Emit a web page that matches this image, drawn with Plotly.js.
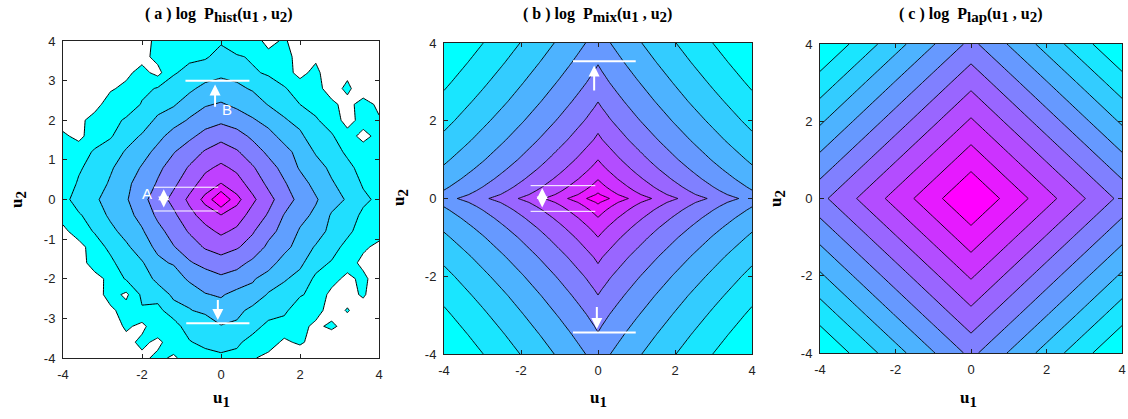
<!DOCTYPE html>
<html><head><meta charset="utf-8">
<script src="https://cdn.plot.ly/plotly-3.0.1.min.js"></script>
<style>html,body{margin:0;padding:0;background:#fff}#chart{width:1128px;height:419px}</style>
</head><body><div id="chart"></div>
<script>
// ---------- DATA ----------
// (a) 2-D histogram: -log P (in contour-level units) on a 0.4 grid, rows = u2 from -4 to 4
const histU = [-4,-3.6,-3.2,-2.8,-2.4,-2,-1.6,-1.2,-0.8,-0.4,0,0.4,0.8,1.2,1.6,2,2.4,2.8,3.2,3.6,4];
const histNegLogP = [
 [11.5,11.0,10.8,10.3,9.9,9.3,8.7,9.2,8.4,8.6,8.05,8.3,8.9,9.3,9.6,9.9,10.1,10.3,10.8,11.1,11.4],
 [11.2,10.6,10.4,9.6,9.4,8.7,9.3,8.3,8.1,7.6,7.9,7.8,8.4,8.5,9.2,8.8,9.5,10.1,10.2,10.9,11.05],
 [10.9,10.5,9.9,9.7,8.8,9.3,8.2,8.5,7.4,7.6,7.05,7.2,7.6,8.3,8.4,8.6,9.3,8.7,9.6,10.3,10.8],
 [10.6,10.2,9.8,9.2,8.6,8.1,8.3,7.4,7.05,6.8,6.4,6.7,7.3,7.5,7.8,8.6,8.5,9.6,8.9,9.7,10.4],
 [10.3,9.9,9.5,8.6,9.2,7.8,7.6,6.8,6.7,6.05,5.9,6.3,6.3,7.1,7.4,7.9,8.3,9.3,9.5,8.8,10.05],
 [10.1,9.6,9.4,8.7,7.9,7.6,6.7,6.6,5.8,5.5,5.2,5.4,5.9,6.4,6.9,7.3,8.2,8.6,9.3,8.7,9.7],
 [9.8,9.5,8.5,8.3,7.3,7.1,6.2,5.9,5.1,4.7,4.4,4.7,5.2,5.6,6.4,6.8,7.6,8.1,8.5,9.3,9.4],
 [9.6,9.3,8.6,7.7,7.2,6.4,5.8,5.05,4.5,3.9,3.6,3.9,4.4,5.2,5.7,6.4,7.1,7.5,8.4,8.8,9.3],
 [9.2,8.6,7.9,7.3,6.6,6.1,5.3,4.6,3.9,3.3,2.8,3.2,3.9,4.7,5.3,6.1,6.5,7.3,7.7,8.6,8.5],
 [8.7,8.1,7.6,6.8,6.3,5.7,4.8,4.2,3.3,2.6,2.05,2.5,3.4,4.1,5.05,5.7,6.2,7.1,7.5,8.2,8.4],
 [8.3,7.6,7.2,6.5,6.1,5.3,4.5,3.7,2.8,1.7,0,1.7,2.8,3.7,4.5,5.3,5.9,6.6,7.1,7.8,8.2],
 [8.5,7.9,7.4,6.9,6.2,5.6,4.9,4.2,3.4,2.6,1.97,2.6,3.4,4.2,4.9,5.6,6.3,6.9,7.4,8.1,8.5],
 [8.6,8.1,7.7,7.1,6.6,5.9,5.2,4.6,3.9,3.2,2.8,3.2,3.9,4.6,5.3,6.1,6.6,7.2,7.7,8.4,8.6],
 [8.7,8.4,7.9,7.5,6.9,6.4,5.7,5.05,4.5,3.9,3.5,3.9,4.5,5.2,5.7,6.3,7.1,7.5,8.2,8.5,8.8],
 [8.8,9.3,8.4,8.1,7.4,6.9,6.3,5.6,5.2,4.7,4.3,4.6,5.2,5.7,6.3,6.8,7.6,7.9,8.6,9.3,8.7],
 [9.5,9.2,8.7,8.5,7.8,7.5,6.8,6.4,5.9,5.4,5.2,5.5,5.9,6.3,6.9,7.3,7.9,8.4,9.4,8.6,8.9],
 [9.6,9.8,9.3,8.6,8.8,7.9,7.4,7.1,6.5,6.1,5.9,6.2,6.5,7.05,7.4,8.0,8.3,8.8,9.3,8.6,9.2],
 [10.5,9.9,9.6,9.1,8.8,8.3,7.9,7.5,7.2,6.7,6.6,6.8,7.1,7.6,7.9,8.5,8.7,9.4,8.8,9.6,10.2],
 [10.9,10.3,10.1,9.5,9.2,8.7,9.3,8.1,7.7,7.5,7.2,7.3,7.9,8.1,8.6,9.3,8.7,9.8,9.2,10.3,10.9],
 [11.05,10.9,10.2,9.6,9.4,9.3,8.7,8.4,8.2,8.1,7.7,7.9,8.1,8.8,8.6,9.4,9.2,10.3,9.9,10.8,11.1],
 [11.4,10.9,10.8,10.2,9.6,9.3,8.8,8.6,8.5,8.3,8.1,8.6,8.7,9.2,8.9,9.4,10.2,9.8,10.6,9.05,11.4]
];
// (b) mixture model: one quadrant (u >= 0), rows = u2, cols = u1
const mixQuadU = [0,0.1,0.2,0.3,0.5,0.75,1,1.5,2,2.5,3,3.5,4];
const mixQuadNegLogP = [
 [0,0.45,0.75,1.01,1.44,1.93,2.37,3.17,3.9,4.57,5.21,5.82,6.40],
 [0.83,1.11,1.34,1.56,1.96,2.41,2.82,3.59,4.29,4.95,5.57,6.17,6.74],
 [1.22,1.47,1.69,1.90,2.27,2.70,3.11,3.85,4.54,5.19,5.81,6.40,6.97],
 [1.53,1.77,1.98,2.17,2.54,2.95,3.35,4.08,4.76,5.40,6.01,6.59,7.16],
 [2.04,2.26,2.45,2.64,2.98,3.38,3.76,4.47,5.13,5.76,6.36,6.93,7.49],
 [2.56,2.77,2.95,3.12,3.45,3.83,4.20,4.89,5.53,6.15,6.74,7.30,7.85],
 [3.01,3.20,3.38,3.54,3.86,4.23,4.59,5.26,5.90,6.50,7.08,7.63,8.17],
 [3.77,3.96,4.12,4.28,4.58,4.93,5.27,5.92,6.53,7.12,7.68,8.23,8.76],
 [4.43,4.61,4.76,4.92,5.20,5.55,5.88,6.50,7.10,7.67,8.22,8.76,9.28],
 [5.02,5.19,5.34,5.49,5.77,6.10,6.42,7.03,7.62,8.18,8.72,9.24,9.75],
 [5.56,5.73,5.87,6.02,6.29,6.61,6.92,7.52,8.09,8.64,9.18,9.69,10.20],
 [6.06,6.22,6.37,6.51,6.77,7.09,7.40,7.98,8.54,9.09,9.61,10.12,10.62],
 [6.53,6.69,6.83,6.97,7.23,7.54,7.84,8.42,8.97,9.51,10.02,10.53,11.02]
];
// (c) Laplacian model: one quadrant (u >= 0)
const lapQuadU = [0,1,2,3,4];
const lapQuadNegLogP = [
 [0,1.32,2.64,3.96,5.28],
 [1.435,2.755,4.075,5.395,6.715],
 [2.87,4.19,5.51,6.83,8.15],
 [4.30,5.62,6.94,8.26,9.58],
 [5.74,7.06,8.38,9.70,11.02]
];
const tickVals = [-4,-2,0,2,4];
const tickText = ['-4','-2','0','2','4'];
const tickValsA = [-4,-3,-2,-1,0,1,2,3,4];
const tickTextA = ['-4','-3','-2','-1','0','1','2','3','4'];
const SUBS = (s) => '<sub><span style="font-size:15px">' + s + '</span></sub>';
const panelTitles = [
 '<b>( a ) log  P' + SUBS('hist') + '(u' + SUBS('1') + ' , u' + SUBS('2') + ')</b>',
 '<b>( b ) log  P' + SUBS('mix') + '(u' + SUBS('1') + ' , u' + SUBS('2') + ')</b>',
 '<b>( c ) log  P' + SUBS('lap') + '(u' + SUBS('1') + ' , u' + SUBS('2') + ')</b>'
];

// ---------- build full symmetric tables from the quadrant tables ----------
function mirrorAxis(q){ return q.slice(1).map(v=>-v).reverse().concat(q); }
function mirrorGrid(Z){
  const rows = Z.slice(1).reverse().concat(Z);
  return rows.map(r => r.slice(1).reverse().concat(r));
}

const MAG = 'rgb(255,0,255)', CY = 'rgb(0,255,255)', WH = 'rgb(255,255,255)';
const coolScale = [[0, MAG],[1, CY]];
const histScale = [[0, MAG],[8/9, CY],[0.95, WH],[1, WH]];

function contourTrace(x, y, z, xa, ya, scale, nLevels, lw){
  return {
    type:'contour', x:x, y:y, z:z, xaxis:xa, yaxis:ya,
    autocontour:false,
    contours:{start:1, end:nLevels, size:1, coloring:'fill', showlines:true},
    colorscale:scale, showscale:false,
    line:{color:'#000', width:lw, smoothing:0},
    hoverinfo:'skip'
  };
}

const data = [
  contourTrace(histU, histU, histNegLogP, 'x', 'y', histScale, 9, 1),
  contourTrace(mirrorAxis(mixQuadU), mirrorAxis(mixQuadU), mirrorGrid(mixQuadNegLogP), 'x2', 'y2', coolScale, 10, 0.9),
  contourTrace(mirrorAxis(lapQuadU), mirrorAxis(lapQuadU), mirrorGrid(lapQuadNegLogP), 'x3', 'y3', coolScale, 10, 0.9)
];

const W = 1128, H = 419;
function axis(domain, anchor, tv, tt){
  return {
    domain:domain, anchor:anchor, range:[-4,4], tickvals:tv, ticktext:tt,
    ticks:'inside', ticklen:4, tickcolor:'#222', mirror:'ticks',
    showline:true, linecolor:'#222', linewidth:1,
    showgrid:false, zeroline:false, automargin:false, fixedrange:true,
    tickfont:{family:'Liberation Sans, Arial, sans-serif', size:13, color:'#222'},
    ticklabelstandoff:4, ticklabeloverflow:'allow'
  };
}
const px = v => v / W, py = v => 1 - v / H;

const layout = {
  width:W, height:H, margin:{l:0,r:0,t:0,b:0},
  paper_bgcolor:'#fff', plot_bgcolor:'#fff', showlegend:false,
  xaxis: axis([px(63), px(379)], 'y', tickVals, tickText),
  yaxis: axis([py(358), py(41)], 'x', tickValsA, tickTextA),
  xaxis2: axis([px(444), px(752)], 'y2', tickVals, tickText),
  yaxis2: axis([py(354), py(43)], 'x2', tickVals, tickText),
  xaxis3: axis([px(820), px(1122)], 'y3', tickVals, tickText),
  yaxis3: axis([py(353), py(44)], 'x3', tickVals, tickText),
  shapes: [
    {type:'line', xref:'x', yref:'y', x0:-0.9, x1:0.72, y0:3.0, y1:3.0, line:{color:WH, width:2}},
    {type:'line', xref:'x', yref:'y', x0:-0.88, x1:0.72, y0:-3.12, y1:-3.12, line:{color:WH, width:2}},
    {type:'line', xref:'x', yref:'y', x0:-1.7, x1:-0.07, y0:0.31, y1:0.31, line:{color:WH, width:1}},
    {type:'line', xref:'x', yref:'y', x0:-1.7, x1:-0.07, y0:-0.29, y1:-0.29, line:{color:WH, width:1}},
    {type:'line', xref:'x2', yref:'y2', x0:-0.65, x1:0.98, y0:3.53, y1:3.53, line:{color:WH, width:2}},
    {type:'line', xref:'x2', yref:'y2', x0:-0.65, x1:0.98, y0:-3.45, y1:-3.45, line:{color:WH, width:2}},
    {type:'line', xref:'x2', yref:'y2', x0:-1.75, x1:-0.07, y0:0.33, y1:0.33, line:{color:WH, width:1}},
    {type:'line', xref:'x2', yref:'y2', x0:-1.75, x1:-0.07, y0:-0.33, y1:-0.33, line:{color:WH, width:1}}
  ],
  annotations: []
};

function arrow(xr, yr, x, y, ax, ay, both){
  return {xref:xr, yref:yr, axref:xr, ayref:yr, x:x, y:y, ax:ax, ay:ay, text:'',
    showarrow:true, arrowhead:2, arrowsize:1.1, arrowwidth:2, arrowcolor:WH,
    arrowside: both ? 'end+start' : 'end', startarrowhead:2, startarrowsize:1.1};
}
const A = layout.annotations;
A.push(arrow('x','y', -0.15, 2.9, -0.15, 2.3));
A.push(arrow('x','y', -0.08, -3.04, -0.08, -2.5));
A.push(arrow('x','y', -1.45, 0.26, -1.45, -0.24, true));
A.push({xref:'x', yref:'y', x:-1.88, y:0.16, text:'A', showarrow:false, font:{family:'Liberation Sans, Arial', size:15, color:WH}});
A.push({xref:'x', yref:'y', x:0.14, y:2.28, text:'B', showarrow:false, font:{family:'Liberation Sans, Arial', size:15, color:WH}});
A.push(arrow('x2','y2', -0.1, 3.42, -0.1, 2.74));
A.push(arrow('x2','y2', -0.03, -3.36, -0.03, -2.75));
A.push(arrow('x2','y2', -1.45, 0.27, -1.45, -0.27, true));

const serif = {family:'Liberation Serif, Times New Roman, serif', size:16, color:'#000'};
const titleX = [219, 597, 970];
panelTitles.forEach((t, i) => {
  A.push({xref:'paper', yref:'paper', x:px(titleX[i]), y:py(15), text:t, showarrow:false,
          xanchor:'center', yanchor:'middle', font:serif});
});
const u1X = [221, 598, 968], u2X = [18, 400, 777], u2Y = [200, 198, 199];
for (let i = 0; i < 3; i++) {
  A.push({xref:'paper', yref:'paper', x:px(u1X[i]), y:py(399), text:'<b>u' + SUBS('1') + '</b>', showarrow:false,
          xanchor:'center', yanchor:'middle', font:{...serif, size:17}});
  A.push({xref:'paper', yref:'paper', x:px(u2X[i]), y:py(u2Y[i]), text:'<b>u' + SUBS('2') + '</b>', showarrow:false,
          textangle:-90, xanchor:'center', yanchor:'middle', font:{...serif, size:17}});
}

Plotly.newPlot('chart', data, layout, {staticPlot:true, displayModeBar:false});
</script>
</body></html>
